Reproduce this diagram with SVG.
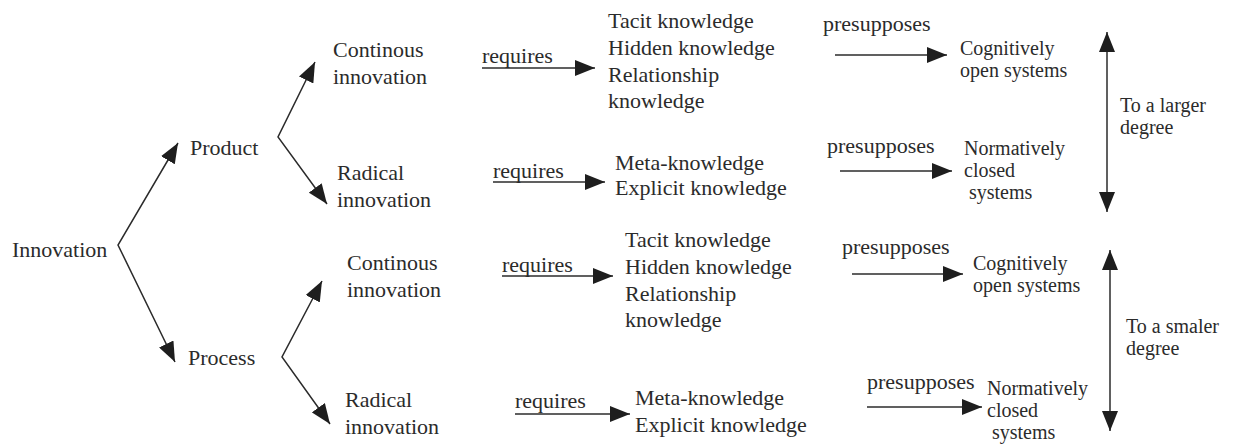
<svg xmlns="http://www.w3.org/2000/svg" width="1243" height="444" viewBox="0 0 1243 444" font-family="'Liberation Serif', 'Times New Roman', Times, 'DejaVu Serif', serif">
<style>
text{font-family:'Liberation Serif','Times New Roman',Times,'DejaVu Serif',serif;font-size:22px;fill:#2b2b2b}
.t{font-size:20px}
.c line,.c polyline{stroke:#2b2b2b;stroke-width:1.5;fill:none}
</style>
<defs>
<marker id="ah" viewBox="0 0 20 16" refX="20" refY="8" markerWidth="20" markerHeight="16" markerUnits="userSpaceOnUse" orient="auto-start-reverse">
<path d="M0,0 L20,8 L0,16 z" fill="#1e1e1e"/>
</marker>
</defs>
<rect width="1243" height="444" fill="#fff"/>
<g class="c" id="connectors">
<polyline points="178,143 118,245 175,362" marker-start="url(#ah)" marker-end="url(#ah)"/>
<polyline points="315,62 278,137 327,204" marker-start="url(#ah)" marker-end="url(#ah)"/>
<polyline points="322,281 282,357 330,424" marker-start="url(#ah)" marker-end="url(#ah)"/>
<line x1="482" y1="68" x2="595" y2="68" marker-end="url(#ah)"/>
<line x1="493" y1="182" x2="605" y2="182" marker-end="url(#ah)"/>
<line x1="502" y1="276" x2="613" y2="276" marker-end="url(#ah)"/>
<line x1="515" y1="414" x2="630" y2="414" marker-end="url(#ah)"/>
<line x1="835" y1="55" x2="947" y2="55" marker-end="url(#ah)"/>
<line x1="840" y1="171" x2="952" y2="171" marker-end="url(#ah)"/>
<line x1="852" y1="274" x2="963" y2="274" marker-end="url(#ah)"/>
<line x1="867" y1="407" x2="982" y2="407" marker-end="url(#ah)"/>
<line x1="1107" y1="32" x2="1107" y2="212" marker-start="url(#ah)" marker-end="url(#ah)"/>
<line x1="1110" y1="250" x2="1110" y2="431" marker-start="url(#ah)" marker-end="url(#ah)"/>
</g>
<g id="innovation"><text x="12" y="257">Innovation</text></g>
<g id="product"><text x="190" y="155">Product</text></g>
<g id="process"><text x="188" y="365">Process</text></g>
<g id="prod-cont"><text x="333" y="57">Continous</text><text x="333" y="84">innovation</text></g>
<g id="prod-rad"><text x="337" y="180">Radical</text><text x="337" y="207">innovation</text></g>
<g id="proc-cont"><text x="347" y="270">Continous</text><text x="347" y="297">innovation</text></g>
<g id="proc-rad"><text x="345" y="407">Radical</text><text x="345" y="434">innovation</text></g>
<g id="req1"><text x="482" y="63">requires</text></g>
<g id="req2"><text x="493" y="178">requires</text></g>
<g id="req3"><text x="502" y="272">requires</text></g>
<g id="req4"><text x="515" y="408">requires</text></g>
<g id="tacit1"><text x="608" y="28">Tacit knowledge</text><text x="608" y="55">Hidden knowledge</text><text x="608" y="82">Relationship</text><text x="608" y="108">knowledge</text></g>
<g id="meta1"><text x="615" y="170">Meta-knowledge</text><text x="615" y="195">Explicit knowledge</text></g>
<g id="tacit2"><text x="625" y="247">Tacit knowledge</text><text x="625" y="274">Hidden knowledge</text><text x="625" y="301">Relationship</text><text x="625" y="327">knowledge</text></g>
<g id="meta2"><text x="635" y="405">Meta-knowledge</text><text x="635" y="432">Explicit knowledge</text></g>
<g id="pre1"><text x="823" y="31">presupposes</text></g>
<g id="pre2"><text x="827" y="153">presupposes</text></g>
<g id="pre3"><text x="842" y="254">presupposes</text></g>
<g id="pre4"><text x="867" y="389">presupposes</text></g>
<g id="cog1"><text class="t" x="960" y="55">Cognitively</text><text class="t" x="960" y="77">open systems</text></g>
<g id="norm1"><text class="t" x="964" y="155">Normatively</text><text class="t" x="964" y="177">closed</text><text class="t" x="969" y="199">systems</text></g>
<g id="cog2"><text class="t" x="973" y="270">Cognitively</text><text class="t" x="973" y="292">open systems</text></g>
<g id="norm2"><text class="t" x="987" y="395">Normatively</text><text class="t" x="987" y="417">closed</text><text class="t" x="992" y="439">systems</text></g>
<g id="larger"><text class="t" x="1120" y="112">To a larger</text><text class="t" x="1120" y="134">degree</text></g>
<g id="smaller"><text class="t" x="1126" y="333">To a smaler</text><text class="t" x="1126" y="355">degree</text></g>
</svg>
